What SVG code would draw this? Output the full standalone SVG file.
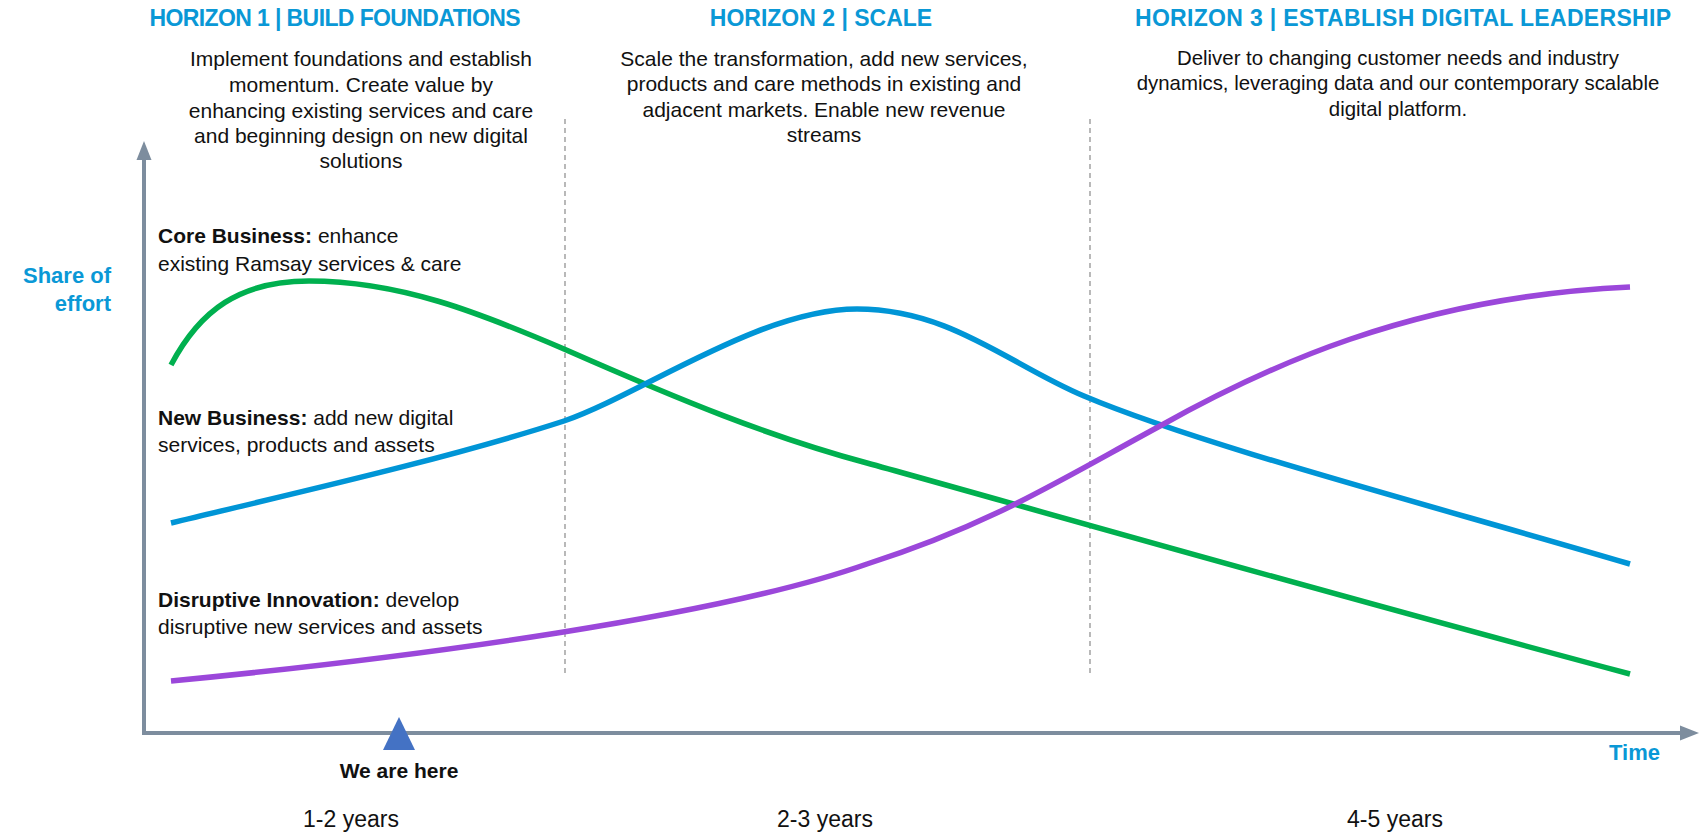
<svg xmlns="http://www.w3.org/2000/svg" width="1700" height="834" viewBox="0 0 1700 834">
<defs>
<style>
.title{font-family:"Liberation Sans",Arial,sans-serif;font-weight:bold;font-size:23px;fill:#0a98d6;text-anchor:middle}
.desc{font-family:"Liberation Sans",Arial,sans-serif;font-size:21px;fill:#111;text-anchor:middle}
.desc3{font-size:20.4px}
.lbl{font-family:"Liberation Sans",Arial,sans-serif;font-size:21px;fill:#111}
.yrs{font-size:23px;text-anchor:middle}
.b{font-weight:bold}
.axislbl{font-family:"Liberation Sans",Arial,sans-serif;font-weight:bold;font-size:22px;fill:#0a98d6}
.axis{stroke:#7d8d9e;stroke-width:4;fill:none}
.div{stroke:#8a8a8a;stroke-width:1.2;stroke-dasharray:5 4;fill:none}
.curve{fill:none;stroke-width:5.5}
</style>
</defs>
<rect width="1700" height="834" fill="#fff"/>

<g id="horizon1">
<text class="title" x="335" y="26" textLength="371">HORIZON 1 | BUILD FOUNDATIONS</text>
<text class="desc" x="361" y="66">Implement foundations and establish</text>
<text class="desc" x="361" y="92">momentum. Create value by</text>
<text class="desc" x="361" y="118">enhancing existing services and care</text>
<text class="desc" x="361" y="143">and beginning design on new digital</text>
<text class="desc" x="361" y="168">solutions</text>
</g>
<g id="horizon2">
<text class="title" x="821" y="26">HORIZON 2 | SCALE</text>
<text class="desc" x="824" y="66">Scale the transformation, add new services,</text>
<text class="desc" x="824" y="91">products and care methods in existing and</text>
<text class="desc" x="824" y="117">adjacent markets. Enable new revenue</text>
<text class="desc" x="824" y="142">streams</text>
</g>
<g id="horizon3">
<text class="title" x="1403" y="26" textLength="536">HORIZON 3 | ESTABLISH DIGITAL LEADERSHIP</text>
<text class="desc desc3" x="1398" y="65">Deliver to changing customer needs and industry</text>
<text class="desc desc3" x="1398" y="90">dynamics, leveraging data and our contemporary scalable</text>
<text class="desc desc3" x="1398" y="116">digital platform.</text>
</g>

<g id="dividers">
<line class="div" x1="565" y1="119" x2="565" y2="676"/>
<line class="div" x1="1090" y1="119" x2="1090" y2="676"/>
</g>

<g id="axes">
<polyline class="axis" points="144,158 144,733 1683,733"/>
<path d="M144,141 L136.5,160 L151.5,160 z" fill="#7d8d9e"/>
<path d="M1699,733 L1680,725.5 L1680,740.5 z" fill="#7d8d9e"/>
<text class="axislbl" x="111" y="283" text-anchor="end" font-size="24">Share of</text>
<text class="axislbl" x="111" y="311" text-anchor="end" font-size="24">effort</text>
<text class="axislbl" x="1660" y="760" text-anchor="end">Time</text>
</g>

<g id="connectors">
<path id="core" class="curve" stroke="#00b04f" d="M171,365 C200,310 240,281 309,281 C400,281 480,313 564,349 C680,400 770,437 867,463 C980,494 1300,586 1630,674"/>
<path id="new" class="curve" stroke="#0095d6" d="M171,523 C300,492 450,458 564,421 C640,395 760,309 857,309 C950,309 1010,365 1084,396 C1200,445 1430,505 1630,564"/>
<path id="disruptive" class="curve" stroke="#9b47da" d="M171,681 C420,657 720,616 867,564 C990,525 1060,480 1160,426 C1260,370 1410,297 1630,287"/>
</g>

<g id="label-core">
<text class="lbl" x="158" y="243"><tspan class="b">Core Business:</tspan> enhance</text>
<text class="lbl" x="158" y="271">existing Ramsay services &amp; care</text>
</g>
<g id="label-new">
<text class="lbl" x="158" y="425"><tspan class="b">New Business:</tspan> add new digital</text>
<text class="lbl" x="158" y="452">services, products and assets</text>
</g>
<g id="label-disruptive">
<text class="lbl" x="158" y="607"><tspan class="b">Disruptive Innovation:</tspan> develop</text>
<text class="lbl" x="158" y="634">disruptive new services and assets</text>
</g>

<g id="we-are-here">
<path d="M399,717 L383,750 L415,750 z" fill="#4472c4"/>
<text class="lbl b" x="399" y="778" text-anchor="middle">We are here</text>
</g>

<g id="timeline">
<text class="lbl yrs" x="351" y="827">1-2 years</text>
<text class="lbl yrs" x="825" y="827">2-3 years</text>
<text class="lbl yrs" x="1395" y="827">4-5 years</text>
</g>
</svg>
